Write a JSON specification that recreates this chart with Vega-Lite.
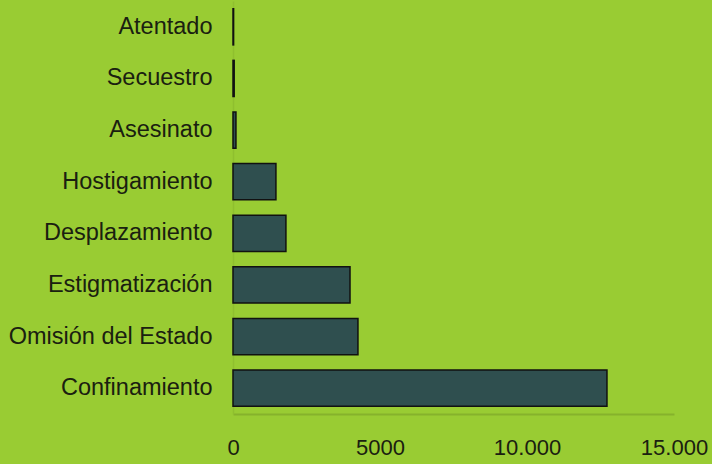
{
  "$schema": "https://vega.github.io/schema/vega-lite/v6.json",
  "width": 441,
  "height": 413,
  "autosize": "none",
  "padding": {"left": 233, "top": 1, "right": 38, "bottom": 50},
  "background": "#99cc33",
  "config": {"view": {"stroke": null}, "font": "Liberation Sans"},
  "data": {"values": [
    {"categoria": "Atentado", "valor": 20},
    {"categoria": "Secuestro", "valor": 40},
    {"categoria": "Asesinato", "valor": 100},
    {"categoria": "Hostigamiento", "valor": 1460},
    {"categoria": "Desplazamiento", "valor": 1800},
    {"categoria": "Estigmatización", "valor": 3980},
    {"categoria": "Omisión del Estado", "valor": 4250},
    {"categoria": "Confinamiento", "valor": 12720}
  ]},
  "mark": {"type": "bar", "color": "#2f4f4f", "stroke": "#111111", "strokeWidth": 1.5},
  "encoding": {
    "y": {
      "field": "categoria", "type": "nominal", "sort": null, "title": null,
      "scale": {"paddingInner": 0.3, "paddingOuter": 0.15},
      "axis": {"ticks": false, "domainColor": "#8fbf2f", "domainWidth": 1.5, "labelFontSize": 23.5, "labelColor": "#1a2010", "labelPadding": 21, "labelLimit": 300}
    },
    "x": {
      "field": "valor", "type": "quantitative", "title": null,
      "scale": {"domain": [0, 15000], "nice": false},
      "axis": {"values": [0, 5000, 10000, 15000], "ticks": false, "grid": false, "domainColor": "#86b22c", "domainWidth": 2, "labelFontSize": 22, "labelColor": "#1a2010", "labelPadding": 23, "labelFlush": false,
        "labelExpr": "datum.value == 10000 ? '10.000' : datum.value == 15000 ? '15.000' : datum.value"}
    }
  }
}
